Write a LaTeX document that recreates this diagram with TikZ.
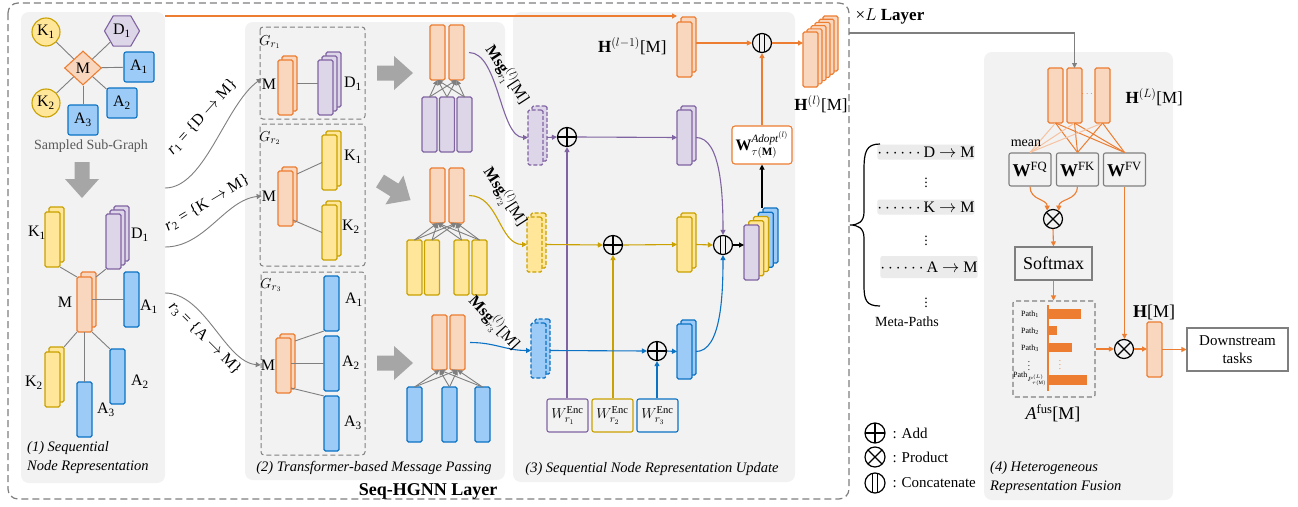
\documentclass[tikz,border=0pt]{standalone}
\usepackage{amsmath}
\usepackage{fontspec}
\setmainfont{Liberation Serif}
\usetikzlibrary{arrows.meta,shapes.geometric,calc}
\definecolor{ocol}{HTML}{ED7D31}
\definecolor{ofill}{HTML}{F9D6BE}
\definecolor{olight}{HTML}{F6C2A0}
\definecolor{ycol}{HTML}{C9A100}
\definecolor{yfill}{HTML}{FFE699}
\definecolor{pcol}{HTML}{8064A2}
\definecolor{pfill}{HTML}{DDD6E8}
\definecolor{bcol}{HTML}{0B72C4}
\definecolor{bfill}{HTML}{9DCBF7}
\definecolor{panelc}{HTML}{F2F2F2}
\definecolor{lgray}{HTML}{7F7F7F}
\definecolor{agray}{HTML}{A6A6A6}
\definecolor{tgray}{HTML}{595959}
\definecolor{mpbg}{HTML}{EBEBEB}
\newcommand\myfs[1]{\fontsize{#1}{#1}\selectfont}
\newcommand\mystack[7]{%
  \foreach \k in {#4,...,1}{\node[#1] at ({#2+\k*(#5)},{#3+\k*(#6)}) {};}%
  \node[#1] (#7) at (#2,#3) {};}
\tikzset{
  bx/.style={inner sep=0pt, outer sep=0pt, anchor=north west, rounded corners=1.5pt, line width=1.1pt, minimum width=15pt, minimum height=55pt},
  ob/.style={bx, draw=ocol, fill=ofill},
  yb/.style={bx, draw=ycol, fill=yfill},
  pb/.style={bx, draw=pcol, fill=pfill},
  bb/.style={bx, draw=bcol, fill=bfill},
  dsh/.style={dash pattern=on 4pt off 2pt},
  lw/.style={line width=1.1pt},
  glink/.style={draw=lgray, line width=0.9pt},
  arr/.style={-{Triangle[length=5pt,width=5pt]}},
  lab/.style={inner sep=0pt, font=\myfs{16}},
  opcirc/.style={circle, draw, line width=1.2pt, minimum size=19pt, inner sep=0pt},
  addc/.style={opcirc, path picture={\draw[line width=1.2pt] (path picture bounding box.north) -- (path picture bounding box.south) (path picture bounding box.west) -- (path picture bounding box.east);}},
  prodc/.style={opcirc, path picture={\draw[line width=1.2pt] (path picture bounding box.north west) -- (path picture bounding box.south east) (path picture bounding box.south west) -- (path picture bounding box.north east);}},
  catc/.style={opcirc, path picture={\draw[line width=1.3pt] ([xshift=-2.5pt]path picture bounding box.north) -- ([xshift=-2.5pt]path picture bounding box.south) ([xshift=2.5pt]path picture bounding box.north) -- ([xshift=2.5pt]path picture bounding box.south);}},
  bigarrow/.pic={\fill[agray] (0,-7.5) -- (17,-7.5) -- (17,-17) -- (36,0) -- (17,17) -- (17,7.5) -- (0,7.5) -- cycle;},
  wbox/.style={draw=lgray, line width=1.1pt, rounded corners=2pt, minimum width=42pt, minimum height=33pt, inner sep=0pt, font=\myfs{18}},
  wenc/.style={line width=1.1pt, rounded corners=2pt, minimum width=41pt, minimum height=33pt, inner sep=0pt, font=\myfs{15}},
  captxt/.style={font=\fontsize{14.5}{19}\selectfont\itshape, inner sep=0pt},
  gnode/.style={line width=1.1pt, inner sep=0pt, font=\myfs{16}},
}
\begin{document}
\begin{tikzpicture}[x=1pt,y=-1pt]
\useasboundingbox (0,0) rectangle (1298,506);
\fill[white] (0,0) rectangle (1298,506);
% panels
\fill[panelc, rounded corners=8pt] (21,12) rectangle (165,483);
\fill[panelc, rounded corners=8pt] (245,22) rectangle (505,480);
\fill[panelc, rounded corners=8pt] (513,12) rectangle (795,482);
\fill[panelc, rounded corners=8pt] (984,52) rectangle (1173,500);
\draw[lgray, line width=1.2pt, dash pattern=on 7pt off 4pt, rounded corners=10pt] (8,3) rectangle (849,499);

% ---------- panel 1: sampled sub-graph
\node[gnode, circle, draw=ycol, fill=yfill, minimum size=28pt] (gk1) at (46,32) {K\textsubscript{1}};
\node[gnode, circle, draw=ycol, fill=yfill, minimum size=28pt] (gk2) at (46,103) {K\textsubscript{2}};
\node[gnode, regular polygon, regular polygon sides=6, draw=pcol, fill=pfill, minimum size=35pt] (gd1) at (122,31) {D\textsubscript{1}};
\node[gnode, diamond, draw=ocol, fill=ofill, minimum width=37pt, minimum height=34pt] (gm) at (83,68) {M};
\node[gnode, rectangle, rounded corners=2pt, draw=bcol, fill=bfill, minimum size=30pt] (ga1) at (139,67) {A\textsubscript{1}};
\node[gnode, rectangle, rounded corners=2pt, draw=bcol, fill=bfill, minimum size=30pt] (ga2) at (122,103) {A\textsubscript{2}};
\node[gnode, rectangle, rounded corners=2pt, draw=bcol, fill=bfill, minimum size=30pt] (ga3) at (83,120) {A\textsubscript{3}};
\foreach \n in {gk1,gk2,gd1,ga1,ga2,ga3} \draw[glink] (gm) -- (\n);
\node[font=\myfs{14}, text=tgray] (ssg) at (91,146) {Sampled Sub-Graph};
\pic[rotate=-90] at (82,162) {bigarrow};

% sequential node representation
\mystack{yb}{45}{212}{1}{4}{-5}{sk1}
\mystack{pb}{106}{214}{2}{4}{-4}{sd1}
\mystack{ob}{77}{277}{1}{4}{-5}{sm}
\node[bb] (sa1) at (124,272) {};
\mystack{yb}{45}{352}{1}{4}{-5}{sk2}
\node[bb] (sa2) at (110,349) {};
\node[bb] (sa3) at (77,382) {};
\draw[glink] (sk1.south east) -- (sm.north west);
\draw[glink] (sd1.south west) -- ([xshift=4pt]sm.north east);
\draw[glink] (sa1.west) -- (sa1.west -| sm.east);
\draw[glink] (sm.south west) -- ([xshift=4pt,yshift=5pt]sk2.north east);
\draw[glink] (sa3.north) -- (sa3.north |- sm.south);
\draw[glink] (sm.south east) -- (sa2.north west);
\node[lab] at (37,233) {K\textsubscript{1}};
\node[lab] at (140,235) {D\textsubscript{1}};
\node[lab] at (65,302) {M};
\node[lab] at (149,307) {A\textsubscript{1}};
\node[lab] at (34,383) {K\textsubscript{2}};
\node[lab] at (140,382) {A\textsubscript{2}};
\node[lab] at (106,410) {A\textsubscript{3}};
\node[captxt, align=left, anchor=north west] at (27,441) {(1) Sequential\\Node Representation};

% ---------- panel 2
\draw[lgray, line width=1pt, dash pattern=on 5pt off 3pt, rounded corners=3pt] (260,27) rectangle (365,119);
\draw[lgray, line width=1pt, dash pattern=on 5pt off 3pt, rounded corners=3pt] (260,124) rectangle (365,266);
\draw[lgray, line width=1pt, dash pattern=on 5pt off 3pt, rounded corners=3pt] (261,272) rectangle (365,455);
\node[font=\myfs{15}] at (270,42) {$G_{r_1}$};
\node[font=\myfs{15}] at (270,138) {$G_{r_2}$};
\node[font=\myfs{15}] at (271,285) {$G_{r_3}$};
% G r1
\mystack{ob}{278}{60}{1}{4}{-4}{g1m}
\mystack{pb}{318}{60}{2}{4}{-4}{g1d}
\draw[glink] ([xshift=4pt,yshift=4pt]g1m.east) -- ([yshift=4pt]g1d.west);
\node[lab] (g1ml) at (269,84) {M};
\node[lab] at (353,84) {D\textsubscript{1}};
% G r2
\mystack{ob}{278}{171}{1}{4}{-4}{g2m}
\mystack{yb}{322}{135}{1}{4}{-4}{g2k1}
\mystack{yb}{322}{205}{1}{4}{-4}{g2k2}
\draw[glink] ([xshift=4pt,yshift=-3pt]g2m.north east) -- (g2k1.west);
\draw[glink] ([yshift=6pt]g2m.south east) -- (g2k2.west);
\node[lab] (g2ml) at (269,196) {M};
\node[lab] at (353,157) {K\textsubscript{1}};
\node[lab] at (351,227) {K\textsubscript{2}};
% G r3
\mystack{ob}{276}{338}{1}{4}{-4}{g3m}
\node[bb] (g3a1) at (324,276) {};
\node[bb] (g3a2) at (324,336) {};
\node[bb] (g3a3) at (324,396) {};
\draw[glink] ([xshift=4pt,yshift=-3pt]g3m.north east) -- (g3a1.south west);
\draw[glink] (g3a2.west) -- (g3a2.west -| g3m.east);
\draw[glink] ([yshift=5pt]g3m.south east) -- (g3a3.north west);
\node[lab] (g3ml) at (268,365) {M};
\node[lab] at (354,300) {A\textsubscript{1}};
\node[lab] at (351,363) {A\textsubscript{2}};
\node[lab] at (353,423) {A\textsubscript{3}};

% relation curves
\coordinate (r1s) at (165,188);
\coordinate (r2s) at (165,247);
\coordinate (r3s) at (165,293);
\draw[glink, arr] (r1s) .. controls (205,188) and (225,105) .. (g1ml.north west);
\draw[glink, arr] (r2s) .. controls (205,247) and (225,200) .. (g2ml.west);
\draw[glink, arr] (r3s) .. controls (205,293) and (225,362) .. (g3ml.west);
\node[font=\myfs{16}, rotate=48] at (202,117) {{\itshape r}\textsubscript{1} = \{D $\rightarrow$ M\}};
\node[font=\myfs{16}, rotate=31] at (207,203) {{\itshape r}\textsubscript{2} = \{K $\rightarrow$ M\}};
\node[font=\myfs{16}, rotate=-45] at (205,338) {{\itshape r}\textsubscript{3} = \{A $\rightarrow$ M\}};

% big gray arrows
\pic at (377,73) {bigarrow};
\pic[rotate=-32] at (380,181) {bigarrow};
\pic at (377,363) {bigarrow};

% transformer groups
\node[ob] (t1o1) at (430,25) {};
\node[ob] (t1o2) at (449,25) {};
\node[pb] (t1p1) at (422,97) {};
\node[pb] (t1p2) at (439.5,97) {};
\node[pb] (t1p3) at (457,97) {};
\foreach \a in {t1p1,t1p2,t1p3} \foreach \b in {t1o1,t1o2} \draw[glink, arr] (\a.north) -- (\b.south);
\node[ob] (t2o1) at (430,168) {};
\node[ob] (t2o2) at (449,168) {};
\node[yb] (t2y1) at (407,240) {};
\node[yb] (t2y2) at (424.5,240) {};
\node[yb] (t2y3) at (454,240) {};
\node[yb] (t2y4) at (472,240) {};
\foreach \a in {t2y1,t2y2,t2y3,t2y4} \foreach \b in {t2o1,t2o2} \draw[glink, arr] (\a.north) -- (\b.south);
\node[ob] (t3o1) at (432,315) {};
\node[ob] (t3o2) at (450,315) {};
\node[bb] (t3b1) at (407,387) {};
\node[bb] (t3b2) at (442,387) {};
\node[bb] (t3b3) at (475,387) {};
\foreach \a in {t3b1,t3b2,t3b3} \foreach \b in {t3o1,t3o2} \draw[glink, arr] (\a.north) -- (\b.south);
\node[captxt] at (374,468) {(2) Transformer-based Message Passing};

% ---------- panel 3
\mystack{pb,dsh}{528}{110}{1}{4}{-4}{pd}
\mystack{yb,dsh}{527}{217}{1}{4}{-4}{yd}
\mystack{bb,dsh}{531}{323}{1}{4}{-4}{bd}
\draw[pcol, lw, arr] ([xshift=5pt]t1o2.east) .. controls +(30,0) and +(-28,0) .. (pd.west);
\draw[ycol, lw, arr] ([xshift=5pt]t2o2.east) .. controls +(30,0) and +(-28,0) .. (yd.west);
\draw[bcol, lw, arr] ([xshift=5pt]t3o2.east) .. controls +(25,0) and +(-25,0) .. (bd.west);
\node[font=\myfs{16}, rotate=-57] at (507,75) {\textbf{Msg}$^{(l)}_{r_1}$[M]};
\node[font=\myfs{16}, rotate=-57] at (505,197) {\textbf{Msg}$^{(l)}_{r_2}$[M]};
\node[font=\myfs{16}, rotate=-47] at (494,323) {\textbf{Msg}$^{(l)}_{r_3}$[M]};

\node[addc] (padd) at (567,137) {};
\node[addc] (yadd) at (613,245) {};
\node[addc] (badd) at (657,351) {};
\node[catc] (cat1) at (723,245) {};
\node[catc] (cat2) at (762,43) {};
\mystack{pb}{677}{110}{1}{4}{-4}{pr}
\mystack{yb}{677}{217}{1}{4}{-4}{yr}
\mystack{bb}{677}{324}{1}{4}{-4}{br}

\node[wenc, draw=pcol] (we1) at (567.5,415.5) {$W^{\mathrm{Enc}}_{r_1}$};
\node[wenc, draw=ycol] (we2) at (612.5,415.5) {$W^{\mathrm{Enc}}_{r_2}$};
\node[wenc, draw=bcol] (we3) at (657.5,415.5) {$W^{\mathrm{Enc}}_{r_3}$};
\draw[pcol, lw, arr] (padd.south |- we1.north) -- (padd.south);
\draw[ycol, lw, arr] (yadd.south |- we2.north) -- (yadd.south);
\draw[bcol, lw, arr] (badd.south |- we3.north) -- (badd.south);

\draw[pcol, lw, arr] ([xshift=4pt]pd.east) -- (padd.west);
\draw[pcol, lw, arr] (padd.east) -- (pr.west);
\draw[ycol, lw, arr] ([xshift=4pt]yd.east) -- (yadd.west);
\draw[ycol, lw, arr] (yadd.east) -- (yr.west);
\draw[ycol, lw, arr] ([xshift=4pt]yr.east) -- (cat1.west);
\draw[bcol, lw, arr] ([xshift=4pt]bd.east) -- (badd.west);
\draw[bcol, lw, arr] (badd.east) -- (br.west);
\draw[bcol, lw, arr] ([xshift=4pt]br.east) .. controls +(25,0) and +(0,40) .. (cat1.south);
\draw[pcol, lw, arr] ([xshift=4pt]pr.east) .. controls +(25,0) and +(0,-40) .. (cat1.north);

% concatenated stack
\node[bb] at (763,208) {};
\node[bb] at (758.25,212.25) {};
\node[yb] at (753.5,216.5) {};
\node[yb] at (748.75,220.75) {};
\node[pb] (cs) at (744,225) {};
\draw[black, lw, arr] (cat1.east) -- (cat1.east -| cs.west);
\node[draw=ocol, line width=1.1pt, rounded corners=3pt, fill=white, minimum width=60pt, minimum height=38pt, inner sep=0pt, font=\myfs{16}] (wad) at (762,145) {$\mathbf{W}^{\mathit{Adopt}^{(l)}}_{\tau(\mathbf{M})}$};
\coordinate (cstop) at (762,208);
\draw[black, lw, arr] (cstop) -- (wad.south);
\draw[ocol, lw, arr] (wad.north) -- (cat2.south);

\mystack{ob}{677}{22}{1}{4}{-5}{hp}
\node[font=\myfs{17}, anchor=east] at (670,46) {\textbf{H}$^{(l-1)}$[M]};
\draw[ocol, lw, arr] ([xshift=4pt]cat2.west -| hp.east) -- (cat2.west);
\mystack{ob}{803}{32}{5}{4}{-3.2}{hl}
\draw[ocol, lw, arr] (cat2.east) -- (cat2.east -| hl.west);
\node[font=\myfs{17}] at (821,104) {\textbf{H}$^{(l)}$[M]};
\coordinate (otop) at (165,16);
\draw[ocol, lw, arr] (otop) -- (otop -| hp.north west);
\node[captxt] at (652,469) {(3) Sequential Node Representation Update};
\node[font=\myfs{18}\bfseries] at (428,491) {Seq-HGNN Layer};

% ---------- meta paths
\node[fill=mpbg, rounded corners=2pt, minimum width=92pt, minimum height=15pt, inner sep=0pt, font=\myfs{16}] (mp1) at (926,152) {$\cdots\cdots$D $\rightarrow$ M};
\node[fill=mpbg, rounded corners=2pt, minimum width=92pt, minimum height=15pt, inner sep=0pt, font=\myfs{16}] (mp2) at (926,207) {$\cdots\cdots$K $\rightarrow$ M};
\node[fill=mpbg, rounded corners=2pt, minimum width=88pt, minimum height=22pt, inner sep=0pt, font=\myfs{16}] (mp3) at (929,267) {$\cdots\cdots$A $\rightarrow$ M};
\node[font=\myfs{14}] at (926,180) {$\vdots$};
\node[font=\myfs{14}] at (926,238) {$\vdots$};
\node[font=\myfs{14}] at (926,300) {$\vdots$};
\node[font=\myfs{14}] at (907,322) {Meta-Paths};
\draw[black, line width=1.2pt] (880,144) .. controls (866,144) and (864,152) .. (864,170) -- (864,212) .. controls (864,222) and (858,225) .. (850,225) .. controls (858,225) and (864,228) .. (864,238) -- (864,285) .. controls (864,300) and (866,306) .. (880,306);

% legend
\node[addc, minimum size=20pt] (lg1) at (875,433) {};
\node[prodc, minimum size=20pt] (lg2) at (875,457) {};
\node[catc, minimum size=20pt] (lg3) at (875,483) {};
\node[anchor=west, font=\myfs{15}] at (889,433) {: Add};
\node[anchor=west, font=\myfs{15}] at (889,457) {: Product};
\node[anchor=west, font=\myfs{15}] at (889,483) {: Concatenate};

% ---------- panel 4
\node[font=\myfs{17}, anchor=west] (xl) at (852,16) {×$L$ \textbf{Layer}};
\node[ob] (hL1) at (1048,68) {};
\node[ob] (hL2) at (1067,68) {};
\node[ob] (hL3) at (1095,68) {};
\node[text=ocol, font=\myfs{10}] at (1088,94) {$\cdots$};
\node[font=\myfs{17}, anchor=west] at (1122,97) {\textbf{H}$^{(L)}$[M]};
\coordinate (lstart) at (849,33);
\draw[lgray, lw, arr] (lstart) -- (lstart -| hL2.north) -- (hL2.north);
\node[wbox] (wfq) at (1030,169.5) {\textbf{W}\textsuperscript{FQ}};
\node[wbox] (wfk) at (1077.5,169.5) {\textbf{W}\textsuperscript{FK}};
\node[wbox] (wfv) at (1124.5,169.5) {\textbf{W}\textsuperscript{FV}};
\foreach \r in {hL1,hL2,hL3} {
  \draw[olight, line width=1pt] (\r.south) -- (wfq.north);
  \draw[ocol, line width=1pt] (\r.south) -- (wfk.north);
  \draw[ocol, line width=1pt] (\r.south) -- (wfv.north);
}
\node[font=\myfs{14}] at (1026,143) {mean};
\node[prodc] (pr1) at (1053,219) {};
\draw[ocol, lw, arr] (wfq.south) .. controls +(0,14) and +(0,-12) .. (pr1.125);
\draw[ocol, lw, arr] (wfk.south) .. controls +(0,14) and +(0,-12) .. (pr1.55);
\node[draw=lgray, line width=1.1pt, minimum width=77pt, minimum height=33pt, inner sep=0pt, font=\myfs{18}] (soft) at (1053.5,263.5) {Softmax};
\draw[ocol, lw, arr] (pr1.south) -- (soft.north);
\node[draw=lgray, line width=1.1pt, dash pattern=on 5pt off 3pt, rounded corners=2pt, minimum width=82pt, minimum height=96pt, inner sep=0pt] (afus) at (1054,349) {};
\draw[ocol, lw, arr] (soft.south) -- (soft.south |- afus.north);
\draw[ocol, line width=1.2pt] (1048,305) -- (1048,391);
\fill[ocol] (1048,309) rectangle (1081,319);
\fill[ocol] (1048,326) rectangle (1057,335);
\fill[ocol] (1048,343) rectangle (1072,352);
\fill[ocol] (1048,375) rectangle (1087,385);
\node[font=\myfs{8}] at (1030,314) {Path\textsubscript{1}};
\node[font=\myfs{8}] at (1030,331) {Path\textsubscript{2}};
\node[font=\myfs{8}] at (1030,348) {Path\textsubscript{3}};
\node[font=\myfs{8}] at (1030,379) {Path$_{P^{(L)}_{\tau(\mathrm{M})}}$};
\node[font=\myfs{9}] at (1029,363) {$\vdots$};
\node[font=\myfs{9}, text=ocol] at (1060,362) {$\vdots$};
\node[font=\myfs{18}] at (1053,413) {\textit{A}\textsuperscript{fus}[M]};
\node[prodc] (pr2) at (1124,349) {};
\draw[ocol, lw, arr] (wfv.south) -- (wfv.south |- pr2.north);
\draw[ocol, lw, arr] (afus.east) -- (pr2.west);
\node[ob] (hm) at (1147,322) {};
\node[font=\myfs{18}] at (1154,312) {\textbf{H}[M]};
\draw[ocol, lw, arr] (pr2.east) -- (pr2.east -| hm.west);
\node[draw=lgray, line width=1.1pt, minimum width=101pt, minimum height=43pt, inner sep=0pt, align=center, font=\fontsize{15}{18}\selectfont] (ds) at (1237.5,349.5) {Downstream\\tasks};
\draw[ocol, lw, arr] (hm.east |- ds.west) -- (ds.west);
\node[captxt, align=left, anchor=north west] at (990,461) {(4) Heterogeneous\\Representation Fusion};
\end{tikzpicture}
\end{document}
